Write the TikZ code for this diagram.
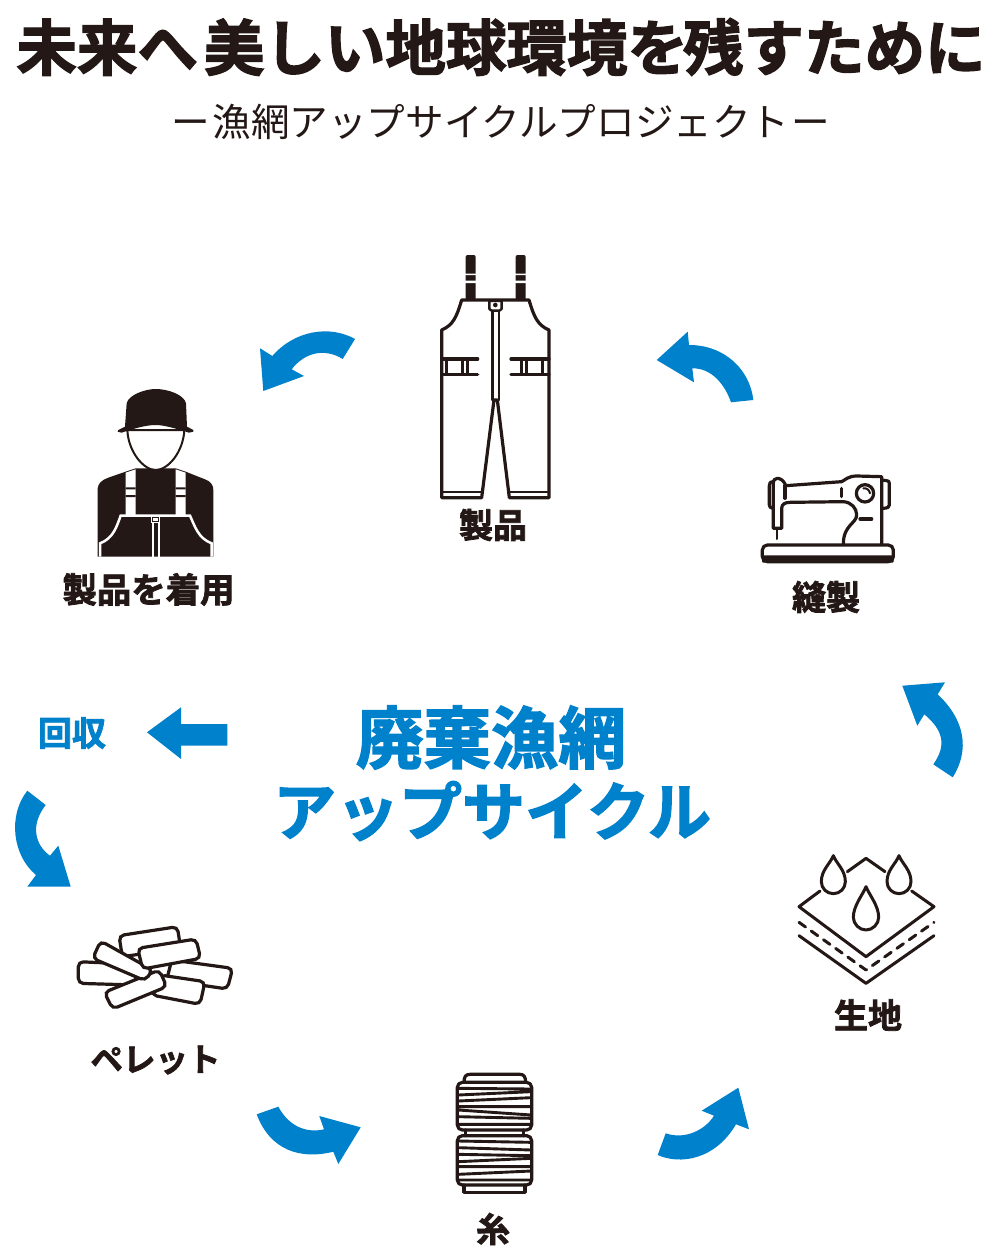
\documentclass[tikz,border=0pt]{standalone}
\usepackage{fontspec}
\newfontfamily\jpr{Noto Sans CJK JP}
\newfontfamily\jph[FakeBold=2.2]{Noto Sans CJK JP Bold}
\definecolor{ink}{HTML}{231815}
\definecolor{blu}{HTML}{0081CC}
\tikzset{
  arrowblue/.style={fill=blu,draw=none},
  icon/.style={draw=ink,line width=3.2pt,line join=round,line cap=round},
  darkfill/.style={fill=ink,draw=none},
  lab/.style={inner sep=0pt,text=ink,font=\jph\fontsize{34}{34}\selectfont},
  zoomed/.style={x=0.33333pt,y=-0.33333pt},
  pellet/.style={draw=ink,fill=white,line width=3.2pt,rounded corners=5pt},
}
\begin{document}
\begin{tikzpicture}[x=1pt,y=-1pt]
\useasboundingbox (0,0) rectangle (1000,1260);
\fill[white] (0,0) rectangle (1000,1260);

% Titles
\node[inner sep=0pt,text=ink,font=\jph\fontsize{60.5}{60}\selectfont] (title) at (501,47) {未来へ\kern6pt 美しい地球環境を\kern-5pt 残すために};
\node[inner sep=0pt,text=ink,font=\jpr\fontsize{38.6}{38}\selectfont] (subtitle) at (501,122) {ー\kern2pt 漁網アップサイクルプロジェクト\kern2pt ー};

% Centre text
\node[inner sep=0pt,text=blu,font=\jph\fontsize{67.5}{67}\selectfont] (c1) at (491,737.5) {廃棄漁網};
\node[inner sep=0pt,text=blu,font=\jph\fontsize{63}{63}\selectfont] (c2) at (492,811) {アップサイクル};
\node[lab,text=blu] (recover) at (72,733) {回収};

% Labels
\node[lab] (l1) at (493,525) {製品};
\node[lab,font=\jph\fontsize{34.4}{34}\selectfont] (l2) at (148.5,589.5) {製品を着用};
\node[lab] (l3) at (826,597) {縫製};
\node[lab] (l4) at (868,1015) {生地};
\node[lab,font=\jph\fontsize{32.5}{32}\selectfont] (l5) at (155.5,1060) {ペレット};
\node[lab] (l6) at (493,1229) {糸};

% Blue arrows
\fill[arrowblue] (272.3,356) .. controls (295,330) and (330,325) .. (355,339) -- (342.7,359) .. controls (325,348) and (305,352) .. (291.7,369.3) -- (304,376) -- (263.3,391) -- (260,348.3) -- cycle;
\fill[arrowblue] (689,345) .. controls (725,345) and (750,370) .. (753.3,400) -- (731,402.3) .. controls (725,385) and (712,368) .. (692.3,368.3) -- (694,382.3) -- (656.7,360) -- (687.7,331.7) -- cycle;
\fill[arrowblue] (937.7,694.3) .. controls (965,720) and (970,750) .. (952.7,777.3) -- (933.3,764.3) .. controls (947,745) and (943,730) .. (924.3,714.3) -- (917.3,725.7) -- (902.3,685.7) -- (945,682.3) -- cycle;
\fill[arrowblue] (227.3,724) -- (227.3,745.7) -- (181,745.7) -- (181,759) -- (147,732.3) -- (181,707.3) -- (181,724) -- cycle;
\fill[arrowblue] (36,875) .. controls (12,855) and (8,815) .. (27.3,790.7) -- (45.7,805) .. controls (30,825) and (35,845) .. (50,855.7) -- (58.3,845.7) -- (70.7,886.7) -- (27.3,886.7) -- cycle;
\fill[arrowblue] (333.3,1151.7) .. controls (300,1160) and (270,1150) .. (256.7,1114.3) -- (278.3,1106.7) .. controls (290,1128) and (308,1133) .. (324,1129.3) -- (319.3,1116) -- (360.7,1127.3) -- (338.3,1164) -- cycle;
\fill[arrowblue] (736,1124.3) .. controls (715,1160) and (680,1165) .. (657.7,1155) -- (665.7,1133.3) .. controls (685,1140) and (705,1130) .. (714,1115.7) -- (701.7,1110.7) -- (738.3,1087.7) -- (749,1129.3) -- cycle;

% Overalls
\begin{scope}[shift={(420,245)},zoomed]
  \fill[darkfill,rounded corners=2pt] (137,30) rectangle (167,165);
  \fill[darkfill,rounded corners=2pt] (287,30) rectangle (317,165);
  \fill[white] (135,86) rectangle (169,90) (135,107) rectangle (169,114);
  \fill[white] (285,86) rectangle (319,90) (285,107) rectangle (319,114);
  \draw[icon] (125,165) .. controls (110,215) and (100,240) .. (65,255) -- (65,758) -- (185,758) -- (222,465) -- (232,465) -- (268,758) -- (387,758) -- (387,255) .. controls (352,240) and (342,215) .. (327,165) -- cycle;
  \draw[icon,line width=2pt] (65,740) -- (185,740) (268,740) -- (387,740);
  \draw[icon,line width=2.4pt] (217,195) -- (217,465) (237,195) -- (237,465);
  \draw[icon,line width=2.4pt,fill=white] (208,168) -- (245,168) -- (245,192) -- (238,197) -- (215,197) -- (208,192) -- cycle;
  \fill[ink] (226,180) circle[radius=7];
  \draw[icon] (65,342) -- (173,342) (65,388) -- (173,388);
  \draw[icon] (80,342) -- (80,388) (128,342) -- (128,388) (143,342) -- (143,388);
  \draw[icon] (273,342) -- (387,342) (273,388) -- (387,388);
  \draw[icon] (305,342) -- (305,388) (320,342) -- (320,388) (367,342) -- (367,388);
\end{scope}

% Person
\begin{scope}[shift={(85,380)},zoomed]
  \fill[darkfill] (38,530) -- (38,325) .. controls (40,310) and (50,300) .. (70,293) -- (122,275) -- (152,265) -- (272,265) -- (302,275) -- (360,298) .. controls (378,305) and (385,315) .. (385,330) -- (385,530) -- cycle;
  \fill[white] (122,278) -- (152,268) -- (152,405) -- (122,405) -- cycle;
  \fill[white] (272,268) -- (302,278) -- (302,405) -- (272,405) -- cycle;
  \fill[ink] (122,322) rectangle (152,328) (122,345) rectangle (152,351);
  \fill[ink] (272,322) rectangle (302,328) (272,345) rectangle (302,351);
  \draw[white,line width=2.5pt] (45,530) -- (45,490) .. controls (85,475) and (95,440) .. (107,407) -- (315,407) .. controls (330,440) and (340,475) .. (380,490) -- (380,530);
  \draw[white,line width=1.8pt] (205,425) -- (205,530) (222,425) -- (222,530);
  \fill[white] (197,405) rectangle (226,430);
  \draw[ink,line width=1pt,fill=white] (203,411) rectangle (219,425);
  \draw[ink,fill=white,line width=2pt] (127,150) .. controls (130,215) and (175,270) .. (212,270) .. controls (250,270) and (295,215) .. (298,150) -- cycle;
  \fill[darkfill] (100,150) .. controls (110,145) .. (120,140) -- (125,70) .. controls (130,45) and (180,27) .. (212,27) .. controls (250,27) and (298,45) .. (303,70) -- (306,140) .. controls (315,145) .. (325,150) -- (325,155) -- (312,158) .. controls (280,148) and (240,135) .. (212,135) .. controls (180,135) and (140,148) .. (110,158) -- (98,155) -- cycle;
\end{scope}

% Sewing machine
\begin{scope}[shift={(750,465)},zoomed]
  \draw[icon] (395,237) -- (395,35) -- (320,33) .. controls (295,33) and (285,45) .. (275,50) -- (108,62) .. controls (100,45) and (90,40) .. (82,40) .. controls (75,40) and (70,45) .. (70,55) -- (70,190) -- (95,190) -- (95,130) .. controls (95,118) and (105,112) .. (120,112) -- (280,110) .. controls (305,112) and (320,130) .. (320,150) .. controls (320,175) and (280,180) .. (280,237);
  \draw[icon] (105,62) -- (105,100);
  \draw[icon] (275,70) -- (275,95);
  \draw[icon] (70,50) .. controls (60,50) and (58,55) .. (58,62) -- (58,120) .. controls (58,126) and (62,130) .. (70,130);
  \draw[icon] (395,45) -- (410,47) .. controls (415,47) and (418,50) .. (418,55) -- (418,120) .. controls (418,126) and (415,130) .. (395,130);
  \draw[icon,line width=2pt] (82,195) -- (82,222);
  \draw[icon] (345,85) circle[radius=26];
  \draw[icon,line width=2pt] (340,70) .. controls (350,68) and (358,75) .. (360,85);
  \draw[icon] (330,162) -- (365,162);
  \draw[icon,rounded corners=5pt] (37,290) -- (37,240) -- (430,240) -- (430,290) -- cycle;
  \fill[darkfill,rounded corners=1pt] (36,271) rectangle (431,293);
\end{scope}

% Fabric
\begin{scope}[shift={(785,845)},zoomed]
  \draw[icon,line width=3pt] (105,138) -- (42,185) -- (243,335) -- (447,185) -- (380,138);
  \draw[icon,line width=3pt] (187,80) -- (243,40) -- (300,80);
  \draw[icon,line width=3pt,dash pattern=on 8pt off 7pt] (42,232) -- (243,375) -- (447,232);
  \draw[icon,line width=3pt] (42,272) -- (243,415) -- (447,272);
  \foreach \cx/\ty/\cy/\r in {145/32/110/36,342/32/110/36,243/125/217/38}{
    \draw[icon,line width=3pt] (\cx,\ty) .. controls (\cx-10,\ty+25) and (\cx-\r,\cy-35) .. (\cx-\r,\cy) .. controls (\cx-\r,\cy+20) and (\cx-20,\cy+\r) .. (\cx,\cy+\r) .. controls (\cx+20,\cy+\r) and (\cx+\r,\cy+20) .. (\cx+\r,\cy) .. controls (\cx+\r,\cy-35) and (\cx+10,\ty+25) .. (\cx,\ty) -- cycle;
  }
\end{scope}

% Spool
\begin{scope}[shift={(445,1065)},zoomed]
  \draw[icon] (57,52) .. controls (57,35) and (62,28) .. (75,28) -- (225,28) .. controls (236,28) and (242,35) .. (242,52);
  \draw[icon,rounded corners=5pt] (37,52) rectangle (260,195);
  \draw[icon] (62,195) -- (62,212) (235,195) -- (235,212);
  \draw[icon,rounded corners=5pt] (37,212) rectangle (260,360);
  \draw[icon] (57,360) -- (57,382) -- (240,382) -- (240,360);
  \begin{scope}[line width=2.9pt,ink]
  \draw[ink] (40,70) -- (258,72) (40,90) -- (258,80) (40,108) -- (258,98) (40,125) -- (258,125) (40,135) -- (258,150) (40,155) -- (258,160) (40,178) -- (258,178);
  \draw[ink] (40,228) -- (258,232) (40,248) -- (258,255) (40,268) -- (258,272) (40,290) -- (258,280) (40,305) -- (258,305) (40,328) -- (258,318) (40,345) -- (258,345);
  \end{scope}
\end{scope}

% Pellets
\begin{scope}[shift={(70,915)},zoomed]
  \draw[pellet] (147,62) -- (322,35) -- (332,100) -- (157,125) -- cycle;
  \draw[pellet] (305,135) -- (488,160) -- (472,222) -- (290,195) -- cycle;
  \draw[pellet] (270,180) -- (405,200) -- (390,268) -- (245,240) -- cycle;
  \draw[pellet] (25,140) -- (200,148) -- (195,210) -- (25,205) -- cycle;
  \draw[pellet] (103,232) -- (268,165) -- (290,215) -- (128,282) -- cycle;
  \draw[pellet] (92,78) -- (248,165) -- (225,197) -- (68,130) -- cycle;
  \draw[pellet] (203,100) -- (378,72) -- (392,130) -- (218,162) -- cycle;
\end{scope}
\end{tikzpicture}
\end{document}
